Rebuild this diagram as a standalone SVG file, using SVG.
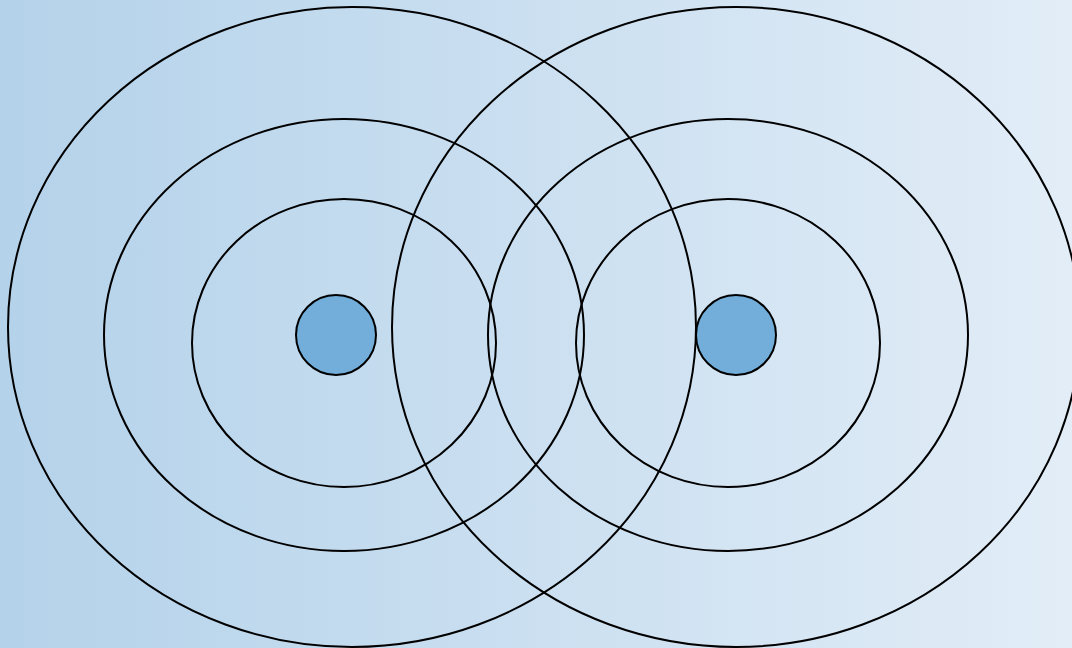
<svg xmlns="http://www.w3.org/2000/svg" width="1072" height="648" viewBox="0 0 1072 648">
<defs>
<linearGradient id="bg" x1="0" y1="0" x2="1" y2="0">
<stop offset="0" stop-color="#b4d2ea"/>
<stop offset="1" stop-color="#e2edf7"/>
</linearGradient>
<style>
.ring{fill:none;stroke:#000;stroke-width:2}
.core{fill:#72aed9;stroke:#000;stroke-width:2}
</style>
</defs>
<rect width="1072" height="648" fill="url(#bg)"/>
<g id="left-waves">
<ellipse class="ring" cx="352" cy="327" rx="344" ry="320"/>
<ellipse class="ring" cx="344" cy="335" rx="240" ry="216"/>
<ellipse class="ring" cx="344" cy="343" rx="152" ry="144"/>
<circle class="core" cx="336" cy="335" r="40"/>
</g>
<g id="right-waves">
<ellipse class="ring" cx="736" cy="327" rx="344" ry="320"/>
<ellipse class="ring" cx="728" cy="335" rx="240" ry="216"/>
<ellipse class="ring" cx="728" cy="343" rx="152" ry="144"/>
<circle class="core" cx="736" cy="335" r="40"/>
</g>
</svg>
